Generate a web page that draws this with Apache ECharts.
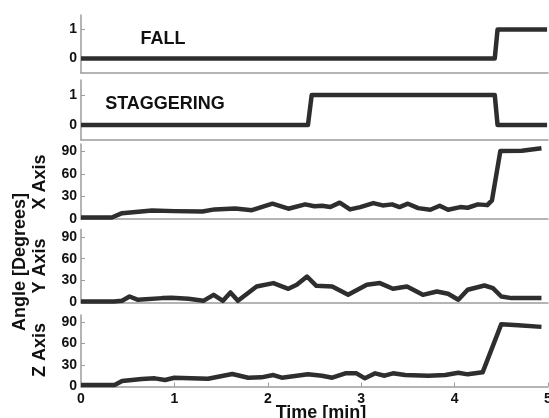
<!DOCTYPE html>
<html>
<head>
<meta charset="utf-8">
<script src="https://cdn.jsdelivr.net/npm/echarts@6/dist/echarts.min.js"></script>
<style>
  html, body { margin: 0; padding: 0; background: #fff; }
  #chart { width: 549px; height: 418px; }
</style>
</head>
<body>
<div id="chart"></div>
<script>
// ---- data ----
const timeFall = [0, 4.43, 4.46, 4.99]
const fall = [0, 0, 1, 1]

const timeStagger = [0, 2.43, 2.47, 4.43, 4.46, 4.99]
const stagger = [0, 0, 1, 1, 0, 0]

const timeX = [0, 0.33, 0.44, 0.76, 1.0, 1.3, 1.43, 1.65, 1.83, 2.05, 2.22, 2.4, 2.5, 2.58, 2.67, 2.77, 2.88, 2.99, 3.13, 3.23, 3.33, 3.41, 3.5, 3.61, 3.74, 3.84, 3.93, 4.06, 4.14, 4.25, 4.35, 4.4, 4.49, 4.72, 4.93]
const angleX = [2, 2, 7.8, 11.4, 10.5, 10, 12.8, 14, 11.8, 20.4, 13.7, 19.5, 17, 17.7, 15.9, 21.8, 12.8, 15.9, 21.2, 18.1, 19.5, 15.9, 20.4, 14.5, 12.4, 17.7, 12.4, 15.9, 15, 19.5, 18.5, 24.9, 90.7, 91.1, 94.4]

const timeY = [0, 0.35, 0.44, 0.52, 0.61, 0.87, 0.97, 1.15, 1.31, 1.42, 1.52, 1.6, 1.68, 1.88, 2.06, 2.22, 2.31, 2.42, 2.52, 2.69, 2.86, 3.06, 3.2, 3.34, 3.49, 3.66, 3.81, 3.93, 4.04, 4.14, 4.32, 4.41, 4.5, 4.61, 4.93]
const angleY = [1.4, 1.4, 2.3, 8.2, 3.7, 6, 6.4, 5.1, 2.3, 10.5, 2.3, 13.7, 2.3, 21.9, 26.6, 18.8, 24.2, 35.6, 22.9, 21.9, 10.5, 24.2, 26.6, 18.8, 21.9, 10.5, 15.1, 11.9, 3.7, 17.4, 23.3, 19.7, 8.2, 6, 6]

const timeZ = [0, 0.36, 0.44, 0.65, 0.79, 0.9, 1.0, 1.36, 1.62, 1.79, 1.93, 2.06, 2.15, 2.43, 2.58, 2.69, 2.83, 2.95, 3.04, 3.15, 3.25, 3.34, 3.47, 3.72, 3.9, 4.04, 4.14, 4.3, 4.5, 4.68, 4.93]
const angleZ = [2.1, 2.1, 7.7, 10.5, 11.4, 9.1, 12.3, 10.9, 17.4, 12.3, 12.8, 16, 12.3, 17, 15.1, 12.3, 18.4, 18.4, 11.4, 18.4, 15.1, 18.4, 16, 15.1, 16, 19.2, 17, 19.8, 87.2, 85.8, 83.4]

const timeTicks = [0, 1, 2, 3, 4, 5]
const binaryTicks = [0, 1]
const angleTicks = [0, 30, 60, 90]

const panelTitles = ['FALL', 'STAGGERING']
const axisTitles = ['X Axis', 'Y Axis', 'Z Axis']
const sideTitle = 'Angle [Degrees]'
const timeTitle = 'Time [min]'

// ---- helpers ----
const FONT = '"Liberation Sans", Arial, sans-serif'
const AXIS_GRAY = '#9c9c9c'
const LINE_DARK = '#2e2e2e'

const zip = (xs, ys) => xs.map((x, i) => [x, ys[i]])

const grids = [
  { top: 15, height: 58 },
  { top: 80, height: 60 },
  { top: 144, height: 75 },
  { top: 229.5, height: 73 },
  { top: 315, height: 71.5 }
].map(g => ({ ...g, left: 81, right: 1, containLabel: false, outerBoundsMode: 'none' }))

const makeXAxis = (idx, isLast) => ({
  gridIndex: idx,
  type: 'value',
  min: 0,
  max: 5,
  interval: 1,
  axisLine: { show: true, onZero: false, lineStyle: { color: AXIS_GRAY, width: 1.5 } },
  axisTick: { show: isLast, inside: true, length: 4, lineStyle: { color: AXIS_GRAY } },
  axisLabel: {
    show: isLast,
    customValues: timeTicks,
    color: '#111',
    fontWeight: 'bold',
    fontSize: 14,
    fontFamily: FONT,
    margin: 6
  },
  splitLine: { show: false }
})

const makeYAxis = (idx, isBinary) => ({
  gridIndex: idx,
  type: 'value',
  min: isBinary ? -0.5 : 0,
  max: isBinary ? 1.5 : 100,
  axisLine: { show: true, onZero: false, lineStyle: { color: AXIS_GRAY, width: 1.5 } },
  axisTick: {
    show: true,
    inside: true,
    length: 4,
    customValues: isBinary ? binaryTicks : angleTicks.slice(1),
    lineStyle: { color: AXIS_GRAY }
  },
  axisLabel: {
    customValues: isBinary ? binaryTicks : angleTicks,
    color: '#111',
    fontWeight: 'bold',
    fontSize: 14,
    fontFamily: FONT,
    margin: 4
  },
  splitLine: { show: false }
})

const makeSeries = (idx, data) => ({
  type: 'line',
  xAxisIndex: idx,
  yAxisIndex: idx,
  data,
  showSymbol: false,
  symbol: 'none',
  lineStyle: { color: LINE_DARK, width: 4.5, join: 'round' },
  silent: true
})

const chart = echarts.init(document.getElementById('chart'), null, { renderer: 'canvas' })

const titleStyle = (text, size) => ({
  text,
  fill: '#111',
  font: 'bold ' + size + 'px ' + FONT,
  textAlign: 'center',
  textVerticalAlign: 'middle'
})

chart.setOption({
  animation: false,
  backgroundColor: '#fff',
  grid: grids,
  xAxis: grids.map((g, i) => makeXAxis(i, i === grids.length - 1)),
  yAxis: grids.map((g, i) => makeYAxis(i, i < 2)),
  series: [
    makeSeries(0, zip(timeFall, fall)),
    makeSeries(1, zip(timeStagger, stagger)),
    makeSeries(2, zip(timeX, angleX)),
    makeSeries(3, zip(timeY, angleY)),
    makeSeries(4, zip(timeZ, angleZ))
  ],
  graphic: [
    { type: 'text', x: 163, y: 39, style: titleStyle(panelTitles[0], 18) },
    { type: 'text', x: 165, y: 104, style: titleStyle(panelTitles[1], 18) },
    { type: 'text', x: 20, y: 262, rotation: Math.PI / 2, style: titleStyle(sideTitle, 18) },
    { type: 'text', x: 40, y: 182, rotation: Math.PI / 2, style: titleStyle(axisTitles[0], 18) },
    { type: 'text', x: 40, y: 266, rotation: Math.PI / 2, style: titleStyle(axisTitles[1], 18) },
    { type: 'text', x: 40, y: 350, rotation: Math.PI / 2, style: titleStyle(axisTitles[2], 18) },
    { type: 'text', x: 321, y: 413, style: titleStyle(timeTitle, 18) }
  ]
})
</script>
</body>
</html>
